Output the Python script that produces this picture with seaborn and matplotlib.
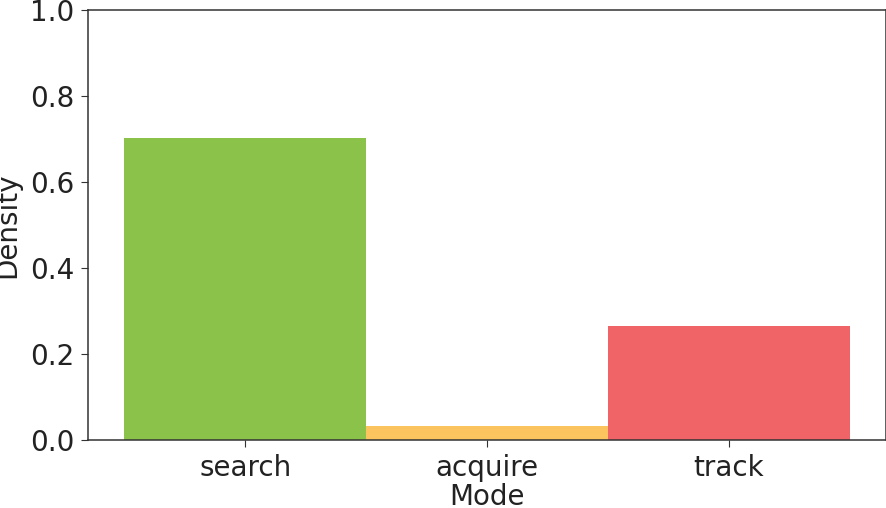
import matplotlib
matplotlib.use("Agg")
import matplotlib.pyplot as plt
import seaborn as sns
import pandas as pd

modes = ["search", "acquire", "track"]
density = [0.702, 0.033, 0.265]
colors = ["#8BC34A", "#FBC45E", "#F06468"]

sns.set_style("ticks")
plt.rcParams['font.family'] = ['DejaVu Sans']

df = pd.DataFrame({"Mode": modes, "Density": density})

fig = plt.figure(figsize=(8.87, 5.08), dpi=100)
ax = fig.add_axes([88/887, 1-440/508, (886-88)/887, 430/508])
sns.barplot(data=df, x="Mode", y="Density", hue="Mode", palette=colors,
            width=1.0, saturation=1.0, legend=False, linewidth=0, ax=ax)
ax.set_xlim(-0.65, 2.65)
ax.set_ylim(0, 1.0)
ax.set_yticks([0, 0.2, 0.4, 0.6, 0.8, 1.0])
ax.tick_params(labelsize=20, length=5, pad=5, color="#333333", labelcolor="#222222")
ax.set_xlabel("Mode", fontsize=20, color="#222222", labelpad=1)
ax.set_ylabel("Density", fontsize=20, color="#222222", labelpad=6)
for s in ax.spines.values():
    s.set_color("#333333")
    s.set_linewidth(1.1)
fig.savefig("out.png", dpi=100)
